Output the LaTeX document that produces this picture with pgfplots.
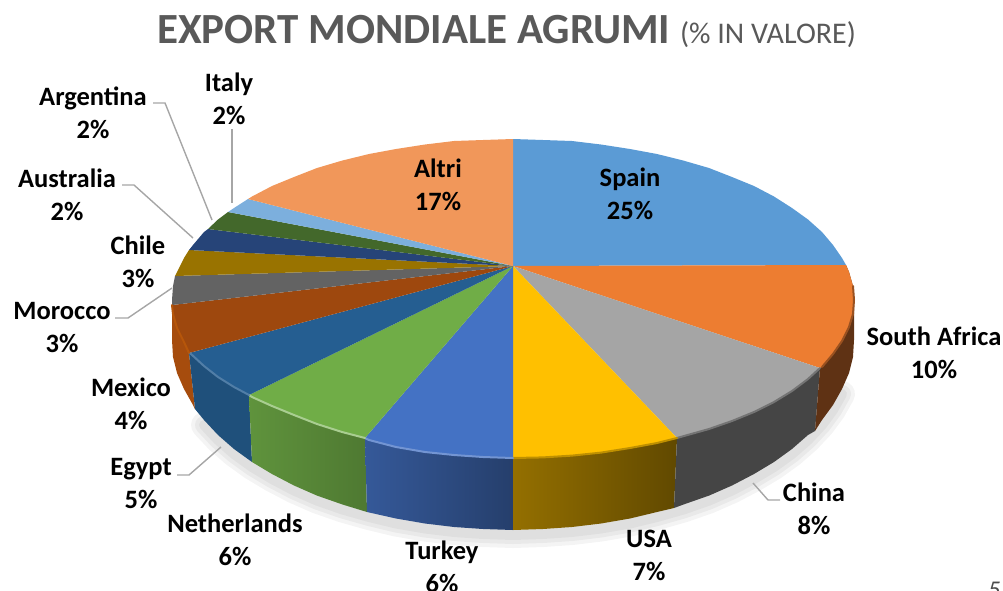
\documentclass[border=0pt]{standalone}
\usepackage{pgfplots}
\pgfplotsset{compat=1.18}
\usepackage{pgfplotstable}
\usepackage{fontspec}
\setmainfont{Carlito}

% outer lower edge of the pie (pixels, y down)
\pgfplotstableread{
x y
842 389
833 405
822 420
808 435
792 449
774 462
754 474
732 485.5
709 495.6
683.5 504.5
657 512
630 518.5
601 523.5
572 527
543 529
513 530
483 529
454 527
425 523.5
396 518.5
369 512
342.5 504.5
317 495.6
294 485.5
272 474
252 462
234 449
218 435
204 420
}\bottomedge

\definecolor{cSpain}{HTML}{5B9BD5}
\definecolor{cSA}{HTML}{ED7D31}
\definecolor{cChina}{HTML}{A5A5A5}
\definecolor{cUSA}{HTML}{FFC000}
\definecolor{cTurkey}{HTML}{4472C4}
\definecolor{cNeth}{HTML}{70AD47}
\definecolor{cEgypt}{HTML}{255E91}
\definecolor{cMexico}{HTML}{9E480E}
\definecolor{cMorocco}{HTML}{636363}
\definecolor{cChile}{HTML}{997300}
\definecolor{cAus}{HTML}{264478}
\definecolor{cArg}{HTML}{43682B}
\definecolor{cItaly}{HTML}{7CAFDD}
\definecolor{cAltri}{HTML}{F1975A}
\definecolor{leader}{HTML}{A6A6A6}

\tikzset{
  lab/.style={font=\fontsize{26.5}{33}\selectfont\bfseries, align=center, text=black, inner sep=0pt},
  lead/.style={leader, line width=1.4pt},
  face/.style={draw=none, fill=#1},
  rim/.style={#1, line width=2pt, line cap=round},
  shadow/.style={black, opacity=.045, line width=#1, line cap=round, line join=round},
}

\begin{document}
\begin{tikzpicture}
\path[use as bounding box] (0,0) rectangle (1003pt,590pt);
\clip (0,0) rectangle (1003pt,590pt);
\begin{axis}[
  at={(0,0)}, anchor=south west,
  scale only axis, width=1003pt, height=590pt,
  xmin=0, xmax=1003, ymin=0, ymax=590,
  y dir=reverse,
  axis lines=none,
  no markers,
  every axis plot/.append style={forget plot},
]
% soft shadow
\addplot[shadow=26pt, yshift=-5pt] table[x=x,y=y] {\bottomedge};
\addplot[shadow=18pt, yshift=-5pt] table[x=x,y=y] {\bottomedge};
\addplot[shadow=10pt, yshift=-5pt] table[x=x,y=y] {\bottomedge};

% sides
\addplot[draw=none, fill=cMexico!92!orange] coordinates {(172,300) (189,353) (195,409) (193,405) (184,389) (177,373) (173,357) (172,340)};
\addplot[draw=none, fill=cEgypt!85!black] coordinates {(249,395) (234,387) (218,377) (204,366) (191,354) (189,353) (195,409) (204,420) (218,435) (234,449) (252,462)};
\addplot[draw=none, left color=cNeth!85!black, right color=cNeth!70!black] coordinates {(365,438) (342,432) (317,424) (294,415) (272,406) (252,397) (249,395) (252,462) (272,474) (294,485.5) (317,495.6) (342.5,504.5) (367,512)};
\addplot[draw=none, left color=cTurkey!78!black, right color=cTurkey!55!black] coordinates {(513,458) (483,457) (454,455) (425,452) (396,447) (369,440) (365,438) (367,512) (396,518.5) (425,523.5) (454,527) (483,529) (513,530)};
\addplot[draw=none, left color=cUSA!58!black, right color=cUSA!38!black] coordinates {(677,438) (657,443) (630,448) (601,452.6) (572,455.6) (543,457.4) (513,458) (513,530) (543,529) (572,527) (601,523.5) (630,518.5) (657,512) (674,508)};
\addplot[draw=none, fill=black!73] coordinates {(820,368) (808,379) (792,391) (774,402) (754,412) (732,421) (709,429) (684,436) (677,438) (674,508) (683.5,504.5) (709,495.6) (732,485.5) (754,474) (774,462) (792,449) (808,435) (815,431)};
\addplot[draw=none, fill=cSA!40!black] coordinates {(846,265) (849,272) (853,286) (854,300) (854,340) (853,357) (849,373) (842,389) (833,405) (822,420) (815,431) (820,368)};

% top faces
\addplot[face=cSpain] coordinates {(513,266) (513,139) (543,140) (572,141) (601,144.5) (630,149) (657,154) (683.5,160.6) (709,168) (732,177) (754,186) (774,196.5) (792,208) (808,219.5) (822,232) (833,245) (842,258) (846,265)};
\addplot[face=cSA] coordinates {(513,266) (846,265) (849,272) (853,286) (854,300) (853,314) (849,327) (842,341) (833,354) (822,367) (820,368)};
\addplot[face=cChina] coordinates {(513,266) (820,368) (808,379) (792,391) (774,402) (754,412) (732,421) (709,429) (684,436) (677,438)};
\addplot[face=cUSA] coordinates {(513,266) (677,438) (657,443) (630,448) (601,452.6) (572,455.6) (543,457.4) (513,458)};
\addplot[face=cTurkey] coordinates {(513,266) (513,458) (483,457) (454,455) (425,452) (396,447) (369,440) (365,438)};
\addplot[face=cNeth] coordinates {(513,266) (365,438) (342,432) (317,424) (294,415) (272,406) (252,397) (249,395)};
\addplot[face=cEgypt] coordinates {(513,266) (249,395) (234,387) (218,377) (204,366) (191,354) (189,353)};
\addplot[face=cMexico] coordinates {(513,266) (189,353) (184,342) (177,328) (173,314) (172,305)};
\addplot[face=cMorocco] coordinates {(513,266) (172,305) (172,300) (173,286) (175,276)};
\addplot[face=cChile] coordinates {(513,266) (175,276) (177,272) (184,258) (189,250)};
\addplot[face=cAus] coordinates {(513,266) (189,250) (193,245) (204,232) (208,229)};
\addplot[face=cArg] coordinates {(513,266) (208,229) (218,219.5) (228,212)};
\addplot[face=cItaly] coordinates {(513,266) (228,212) (234,208) (248,199)};
\addplot[face=cAltri] coordinates {(513,266) (248,199) (252,196.5) (272,186) (294,177) (317,168) (342,160.6) (369,154) (396,149) (425,144.5) (454,141) (483,140) (513,139)};

% bevel along the rim
\addplot[rim=cSA!65!black] coordinates {(853,286) (854,300) (853,314) (849,327) (842,341) (833,354) (822,367)};
\addplot[rim=cChina!70!black] coordinates {(820,368) (808,379) (792,391) (774,402) (754,412) (732,421) (709,429) (684,436) (677,438)};
\addplot[rim=cUSA!75!black] coordinates {(677,438) (657,443) (630,448) (601,452.6) (572,455.6) (543,457.4) (513,458)};
\addplot[rim=cTurkey!75!white] coordinates {(513,458) (483,457) (454,455) (425,452) (396,447) (369,440) (365,438)};
\addplot[rim=cNeth!60!white] coordinates {(365,438) (342,432) (317,424) (294,415) (272,406) (252,397) (249,395)};
\addplot[rim=cEgypt!80!white] coordinates {(249,395) (234,387) (218,377) (204,366) (191,354) (189,353)};
\addplot[rim=cMexico!75!orange] coordinates {(189,353) (184,342) (177,328) (173,314) (172,305)};

% leader lines
\addplot[lead] coordinates {(232,129) (232,203)};
\addplot[lead] coordinates {(153,103) (165,103) (212,220)};
\addplot[lead] coordinates {(122,185) (134,185) (193,238)};
\addplot[lead] coordinates {(115,318) (128,318) (172,288)};
\addplot[lead] coordinates {(177,475) (189,475) (221,447)};
\addplot[lead] coordinates {(753,483) (768,500) (780,500)};

% labels
\node[lab] at (axis cs:630,193.5) {Spain\\25\%};
\node[lab] at (axis cs:438,185) {Altri\\17\%};
\node[lab] at (axis cs:934,352.5) {South Africa\\10\%};
\node[lab] at (axis cs:814,508.5) {China\\8\%};
\node[lab] at (axis cs:649,555.5) {USA\\7\%};
\node[lab] at (axis cs:442,566.5) {Turkey\\6\%};
\node[lab] at (axis cs:235,539.5) {Netherlands\\6\%};
\node[lab] at (axis cs:141,483.5) {Egypt\\5\%};
\node[lab] at (axis cs:131,403.5) {Mexico\\4\%};
\node[lab] at (axis cs:62,327.5) {Morocco\\3\%};
\node[lab] at (axis cs:138,261.5) {Chile\\3\%};
\node[lab] at (axis cs:67,194.5) {Australia\\2\%};
\node[lab] at (axis cs:93,112.5) {Argentina\\2\%};
\node[lab] at (axis cs:229,98.5) {Italy\\2\%};

% title
\node[inner sep=0pt, text=black!65] at (axis cs:506.5,31) {\fontsize{43}{50}\selectfont\bfseries EXPORT MONDIALE AGRUMI\ \fontsize{30}{36}\selectfont\mdseries (\% IN VALORE)};
\node[inner sep=0pt, text=black!70, anchor=north west] at (axis cs:988,582) {\fontsize{24}{28}\selectfont\itshape 5};
\end{axis}
\end{tikzpicture}
\end{document}
